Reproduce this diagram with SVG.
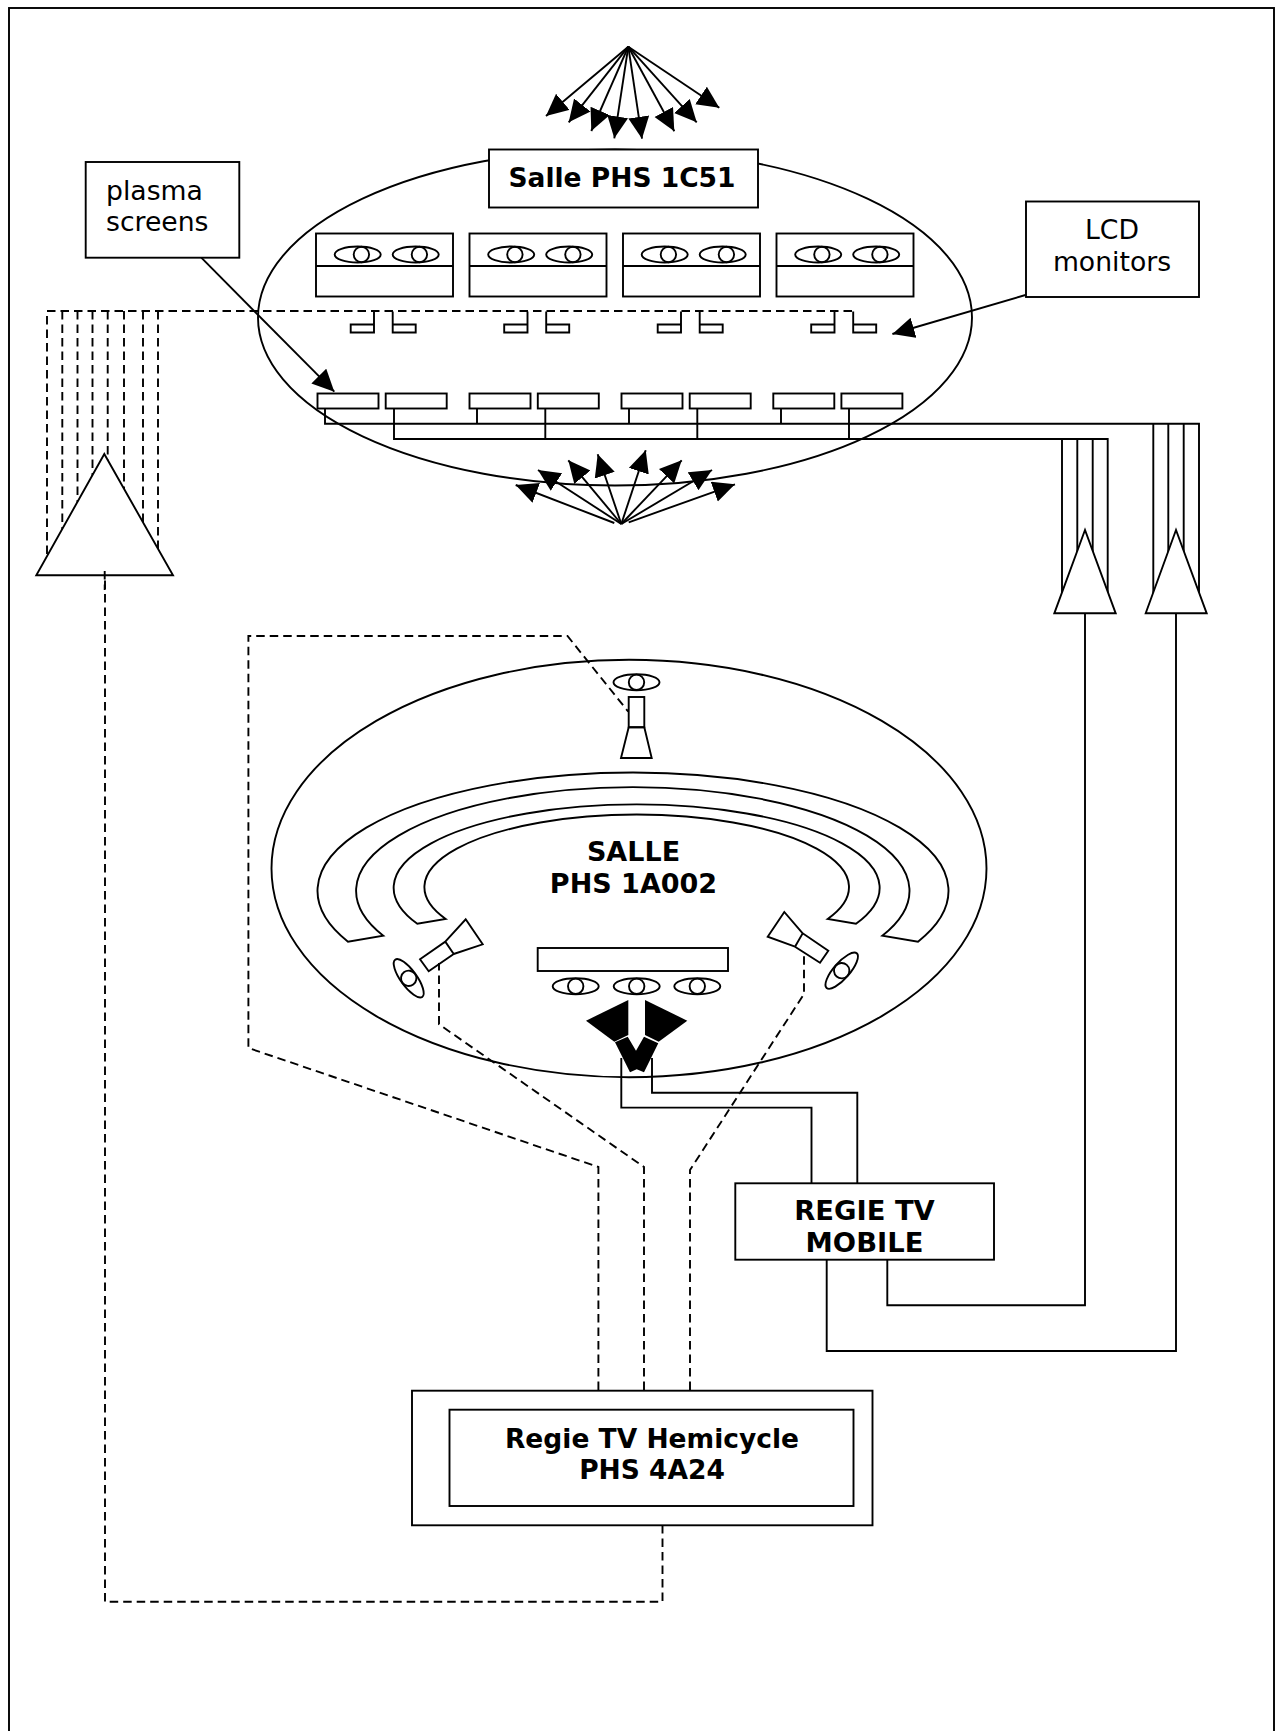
<svg xmlns="http://www.w3.org/2000/svg" xmlns:xlink="http://www.w3.org/1999/xlink" width="1282" height="1731" viewBox="0 0 1282 1731">
<style>
.s{fill:none;stroke:#000;stroke-width:1.9}
.w{fill:#fff;stroke:#000;stroke-width:1.9}
.d{fill:none;stroke:#000;stroke-width:1.9;stroke-dasharray:8.5 5}
.a{fill:none;stroke:#000;stroke-width:1.9;marker-end:url(#ah)}
.k{fill:#000;stroke:none}
text{font-family:"DejaVu Sans",sans-serif;font-size:26.67px;fill:#000}
.b{font-weight:bold;text-anchor:middle;font-size:26.5px}
.b2{font-weight:bold;text-anchor:middle;font-size:27px}
.b3{font-weight:bold;text-anchor:middle;font-size:27.4px}
.c{text-anchor:middle}
</style>
<defs>
<marker id="ah" markerUnits="userSpaceOnUse" markerWidth="23" markerHeight="22" refX="22" refY="10.5" orient="auto"><path d="M0,0L22,10.5L0,21Z" fill="#000"/></marker>
<g id="eye"><ellipse class="s" rx="23" ry="8"/><circle class="s" r="7.7"/></g>
<g id="eye-r"><ellipse class="s" rx="23" ry="8"/><circle class="s" cx="3.7" r="7.7"/></g>
<g id="rack"><rect class="s" width="137" height="63"/><path class="s" d="M0,32.5H137"/><use xlink:href="#eye-r" href="#eye-r" transform="translate(41.7,21)"/><use xlink:href="#eye-r" href="#eye-r" transform="translate(99.7,21)"/><path class="s" d="M58,78V99H34.7V91H58M76.7,78V99H99.7V91H76.7"/></g>
</defs>
<rect id="frame" class="s" x="9" y="8" width="1265" height="1730"/>
<g id="room-1c51"><ellipse class="s" cx="615" cy="317.5" rx="357" ry="168"/></g>
<g id="room-1a002"><ellipse class="s" cx="629" cy="868.5" rx="357.5" ry="208.7"/></g>
<g id="connectors">
<path class="d" d="M852,311H47V560M62.3,311V560M77.5,311V560M92.5,311V560M107.7,311V560M124,311V560M143,311V560M158,311V560"/>
<path class="s" d="M325,408V423.7H1199V600M394,408V439H1107.7V600M477,408V423.7M545.3,408V439M629,408V423.7M697.3,408V439M781,408V423.7M849,408V439M1153.3,423.7V600M1168.3,423.7V600M1183.7,423.7V600M1062,439V600M1077.3,439V600M1092.7,439V600"/>
<path class="d" d="M662.5,1525V1601.7H105V571"/>
<path class="d" d="M598.4,1390V1167L248.4,1048V636H567.5L628.3,711.7"/>
<path class="d" d="M644,1390V1167L439,1024.3V963"/>
<path class="d" d="M690,1390V1170L804,994V955"/>
<path class="s" d="M621.3,1058V1107.6H811.5V1183M652,1058V1092.7H857.3V1183"/>
<path class="s" d="M826.7,1260V1351H1176V613M887.3,1260V1305.3H1085V613"/>
<path class="a" d="M628.3,46.7L546,116"/><path class="a" d="M628.3,46.7L568.7,122.3"/><path class="a" d="M628.3,46.7L591.3,131"/><path class="a" d="M628.3,46.7L614.3,138.3"/><path class="a" d="M628.3,46.7L642,138.7"/><path class="a" d="M628.3,46.7L674.3,131.3"/><path class="a" d="M628.3,46.7L696.7,122.3"/><path class="a" d="M628.3,46.7L719.3,107.7"/>
<path class="a" d="M614.3,523L515.7,485"/><path class="a" d="M621.3,524L538,470"/><path class="a" d="M621.3,524L568.3,460.3"/><path class="a" d="M621.3,524L597.7,454.3"/><path class="a" d="M621.3,524L645.7,450.3"/><path class="a" d="M621.3,524L681.7,460.3"/><path class="a" d="M621.3,524L712,470"/><path class="a" d="M628.7,522.3L735,484.3"/>
<path class="a" d="M201.3,257.7L334.3,391.7"/>
<path class="a" d="M1025.5,295L892.4,334"/>
</g>
<g id="amp-left"><path class="w" d="M104.3,454L36.3,575.3H173Z"/><path class="d" d="M104.7,571V590"/></g>
<g id="amp-right-1"><path class="w" d="M1085,530L1054.3,613.3H1115.7Z"/></g>
<g id="amp-right-2"><path class="w" d="M1176,530L1145.7,613.3H1206.7Z"/></g>
<g id="title-1c51"><rect class="w" x="489" y="149.5" width="269" height="58"/><text class="b" x="622" y="187">Salle PHS 1C51</text></g>
<g id="racks">
<use xlink:href="#rack" href="#rack" transform="translate(316,233.5)"/>
<use xlink:href="#rack" href="#rack" transform="translate(469.5,233.5)"/>
<use xlink:href="#rack" href="#rack" transform="translate(623,233.5)"/>
<use xlink:href="#rack" href="#rack" transform="translate(776.5,233.5)"/>
</g>
<g id="plasma-row">
<rect class="s" x="317.5" y="393.5" width="61" height="15"/><rect class="s" x="385.7" y="393.5" width="61" height="15"/><rect class="s" x="469.5" y="393.5" width="61" height="15"/><rect class="s" x="537.8" y="393.5" width="61" height="15"/><rect class="s" x="621.5" y="393.5" width="61" height="15"/><rect class="s" x="689.7" y="393.5" width="61" height="15"/><rect class="s" x="773.3" y="393.5" width="61" height="15"/><rect class="s" x="841.4" y="393.5" width="61" height="15"/>
</g>
<g id="plasma-label"><rect class="s" x="85.7" y="162" width="153.6" height="95.7"/><text x="106" y="200">plasma</text><text x="106" y="230.7">screens</text></g>
<g id="lcd-label"><rect class="s" x="1026" y="201.5" width="173" height="95.5"/><text class="c" x="1112" y="238.5">LCD</text><text class="c" x="1112" y="270.7">monitors</text></g>
<g id="benches">
<path class="s" d="M348,941.7A315.5 118.4 0 1 1 918,941.7L882.3,935.7A276.7 103.7 0 1 0 383.3,935.7Z"/>
<path class="s" d="M417.3,923.7A243 83.4 0 1 1 856,923.7L827.7,919A212.3 72.7 0 1 0 445.7,919Z"/>
</g>
<g id="title-1a002"><text class="b2" x="633.5" y="861">SALLE</text><text class="b2" x="633.5" y="892.7">PHS 1A002</text></g>
<g id="camera-top"><use xlink:href="#eye" href="#eye" transform="translate(636.5,682.3)"/><rect class="s" x="628.7" y="697" width="15.6" height="30.3"/><path class="s" d="M628.7,727.3H644.3L651.7,758H621Z"/></g>
<g id="camera-left"><path class="s" d="M420,959.3L445.3,941.7L453.7,954L428.7,971.3ZM445.3,941.7L465.7,919.3L482.7,944.3L453.7,954"/><use xlink:href="#eye" href="#eye" transform="translate(408.7,978.3) rotate(54)"/></g>
<g id="camera-right"><path class="s" d="M795,946.7L802.7,933.3L828.3,950.7L820,962.7ZM802.7,933.3L784.3,912L767.7,936.7L795,946.7"/><use xlink:href="#eye" href="#eye" transform="translate(841.7,970.7) rotate(-49)"/></g>
<g id="screen"><rect class="s" x="537.7" y="948" width="190.3" height="23"/><use xlink:href="#eye" href="#eye" transform="translate(575.7,986.3)"/><use xlink:href="#eye" href="#eye" transform="translate(636.7,986.3)"/><use xlink:href="#eye" href="#eye" transform="translate(697.3,986.3)"/></g>
<g id="camera-black"><path class="k" d="M628.3,1000L586,1020.7L614.3,1041.7L628.3,1035Z"/><path class="k" d="M645,1000L687.3,1020.7L658.7,1041.7L645,1035Z"/><path class="k" d="M615,1042.3L627.7,1036.7L636,1050.7L644,1036.7L658.3,1043.3L644,1072.3L636.7,1069.3L630,1072.3Z"/></g>
<g id="regie-mobile"><rect class="w" x="735.3" y="1183.3" width="258.7" height="76.4"/><text class="b3" x="864.5" y="1220">REGIE TV</text><text class="b3" x="864.5" y="1251.7">MOBILE</text></g>
<g id="regie-hemicycle"><rect class="w" x="412" y="1390.7" width="460.5" height="134.6"/><rect class="s" x="449.5" y="1409.7" width="404" height="96.3"/><text class="b" x="652" y="1447.7">Regie TV Hemicycle</text><text class="b" x="652" y="1478.8">PHS 4A24</text></g>
</svg>
